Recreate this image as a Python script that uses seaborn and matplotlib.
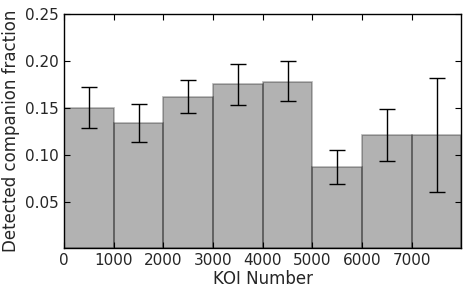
import numpy as np
import matplotlib
matplotlib.use("Agg")
import matplotlib.pyplot as plt
import seaborn as sns

bin_edges = [0, 1000, 2000, 3000, 4000, 5000, 6000, 7000, 8000]
bin_centers = [500, 1500, 2500, 3500, 4500, 5500, 6500, 7500]
fractions = [0.150, 0.134, 0.162, 0.175, 0.178, 0.087, 0.121, 0.1205]
err_upper = [0.172, 0.1535, 0.180, 0.197, 0.200, 0.105, 0.149, 0.182]
err_lower = [0.1286, 0.114, 0.1446, 0.1525, 0.1567, 0.069, 0.0934, 0.0597]
xticks = [0, 1000, 2000, 3000, 4000, 5000, 6000, 7000]
yticks = [0.05, 0.10, 0.15, 0.20, 0.25]

sns.set_style("ticks")
plt.rcParams['font.family'] = ['DejaVu Sans']
plt.rcParams['xtick.direction'] = 'in'
plt.rcParams['ytick.direction'] = 'in'

fig = plt.figure(figsize=(4.69, 2.95), dpi=100)
ax = fig.add_axes([0.1365, 0.158, 0.8475, 0.7945])

sns.histplot(x=bin_centers, weights=fractions, bins=bin_edges, ax=ax,
             color='black', alpha=0.3, edgecolor=(0, 0, 0, 0.3), linewidth=1.2)
for p in ax.patches:
    p.set_edgecolor((0, 0, 0, 0.3))

yerr = np.array([np.array(fractions) - np.array(err_lower),
                 np.array(err_upper) - np.array(fractions)])
ax.errorbar(bin_centers, fractions, yerr=yerr, fmt='none', ecolor='black',
            elinewidth=1, capsize=6, capthick=1)

ax.set_xlim(0, 8000)
ax.set_ylim(0, 0.25)
ax.set_xticks(xticks)
ax.set_yticks(yticks)
ax.set_yticklabels([f"{v:.2f}" for v in yticks])
ax.tick_params(axis='both', which='major', labelsize=11, length=4, width=0.8,
               top=True, right=True, color='black')
for s in ax.spines.values():
    s.set_color('black')
    s.set_linewidth(1)
ax.set_xlabel("KOI Number", fontsize=12, labelpad=1)
ax.set_ylabel("Detected companion fraction", fontsize=12, labelpad=4)

fig.savefig("out.png", dpi=100)
